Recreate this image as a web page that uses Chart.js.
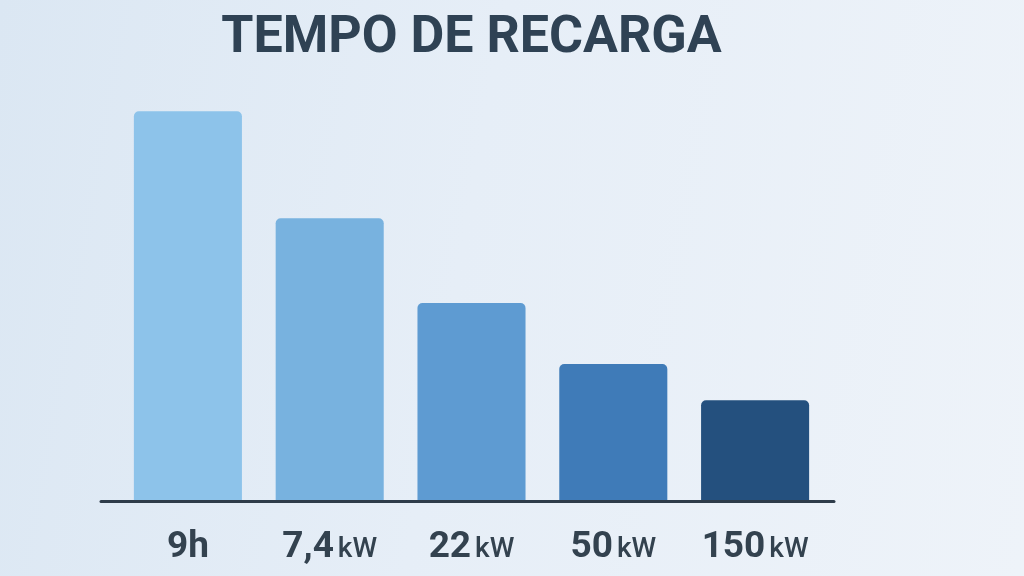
<!DOCTYPE html>
<html>
<head>
<meta charset="utf-8">
<script src="https://cdn.jsdelivr.net/npm/chart.js@4"></script>
<style>
  html, body { margin: 0; padding: 0; }
  body {
    width: 1024px; height: 576px; overflow: hidden;
    background: linear-gradient(100deg, #dbe7f3 0%, #e6eef7 45%, #eef3f9 100%);
  }
  canvas { display: block; }
</style>
</head>
<body>
<canvas id="chart" width="1024" height="576"></canvas>
<script>
const titleText = 'TEMPO DE RECARGA';
const labelNumbers = ['9h', '7,4', '22', '50', '150'];
const labelUnits = ['', 'kW', 'kW', 'kW', 'kW'];
const chargeTime = [9, 6.52, 4.56, 3.15, 2.31];
const barColors = ['#8dc3ea', '#78b2df', '#5e9bd2', '#3f7bb8', '#24507e'];

const textColor = '#33424f';

// desenha a linha base e os rótulos com tamanhos mistos
const bottomLabels = {
  id: 'bottomLabels',
  afterDraw(chart) {
    const ctx = chart.ctx;
    const area = chart.chartArea;
    const x = chart.scales.x;

    ctx.save();
    ctx.strokeStyle = '#2e3c4a';
    ctx.lineWidth = 3;
    ctx.lineCap = 'round';
    ctx.beginPath();
    ctx.moveTo(area.left - 16, area.bottom + 1.5);
    ctx.lineTo(area.right + 8, area.bottom + 1.5);
    ctx.stroke();

    ctx.fillStyle = textColor;
    ctx.textBaseline = 'alphabetic';
    ctx.textAlign = 'left';
    labelNumbers.forEach((num, i) => {
      const cx = x.getPixelForValue(i);
      ctx.font = 'bold 37px Roboto';
      const w1 = ctx.measureText(num).width;
      const unit = labelUnits[i];
      let w2 = 0, gap = 0;
      if (unit) {
        ctx.font = '500 28px Roboto';
        w2 = ctx.measureText(unit).width;
        gap = 4;
      }
      let sx = cx - (w1 + gap + w2) / 2;
      const by = area.bottom + 57;
      ctx.font = 'bold 37px Roboto';
      ctx.fillText(num, sx, by);
      if (unit) {
        ctx.font = '500 28px Roboto';
        ctx.fillText(unit, sx + w1 + gap, by);
      }
    });
    ctx.restore();
  }
};

new Chart(document.getElementById('chart'), {
  type: 'bar',
  data: {
    labels: labelNumbers.map((n, i) => n + (labelUnits[i] ? ' ' + labelUnits[i] : '')),
    datasets: [{
      data: chargeTime,
      backgroundColor: barColors,
      borderRadius: { topLeft: 5, topRight: 5 },
      borderSkipped: 'start',
      categoryPercentage: 1,
      barPercentage: 0.762
    }]
  },
  options: {
    responsive: false,
    animation: false,
    layout: { padding: { left: 117, right: 198, top: 0, bottom: 68 } },
    plugins: {
      legend: { display: false },
      tooltip: { enabled: false },
      title: {
        display: true,
        text: titleText,
        color: '#2f4254',
        font: { family: 'Roboto', size: 52, weight: 'bold', lineHeight: 1.2 },
        padding: { top: 8, bottom: 30 }
      }
    },
    scales: {
      x: {
        display: true,
        grid: { display: false },
        border: { display: false },
        ticks: { display: false }
      },
      y: {
        display: false,
        min: 0,
        max: 9.25
      }
    }
  },
  plugins: [bottomLabels]
});
</script>
</body>
</html>
